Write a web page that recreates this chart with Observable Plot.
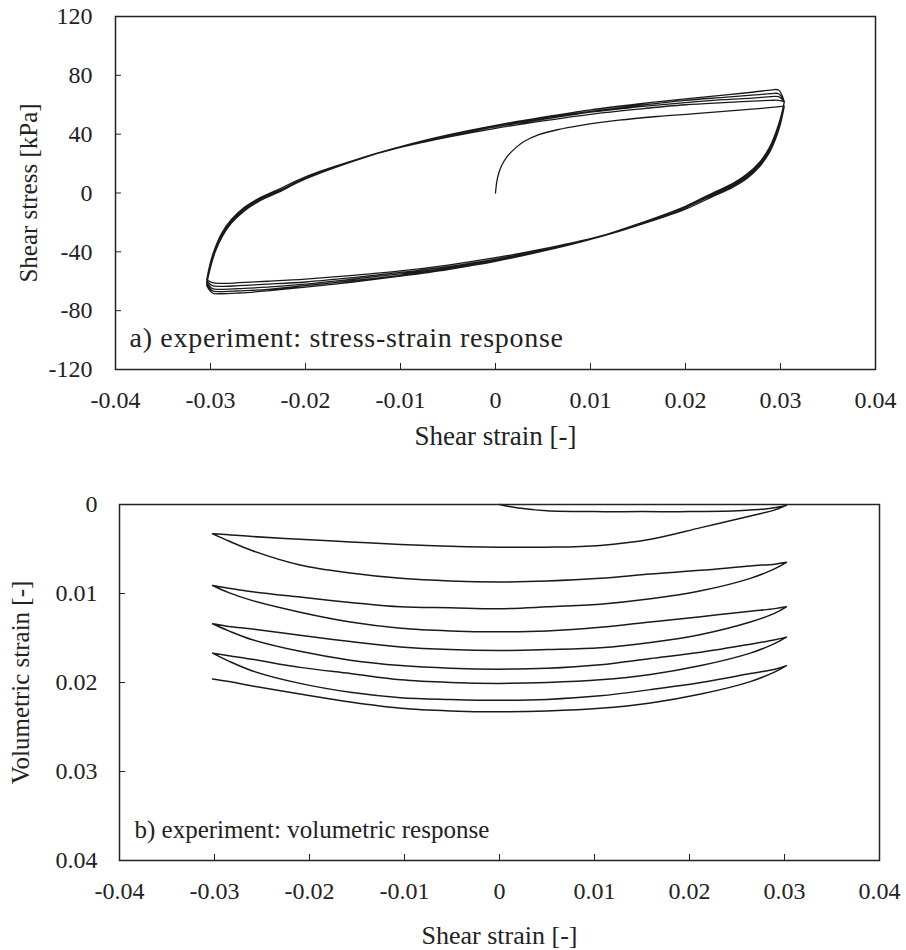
<!DOCTYPE html>
<html>
<head>
<meta charset="utf-8">
<script src="https://cdn.jsdelivr.net/npm/d3@7"></script>
<script src="https://cdn.jsdelivr.net/npm/@observablehq/plot@0.6"></script>
<style>
html, body { margin: 0; padding: 0; background: #fff; }
#chart { width: 906px; height: 950px; }
#chart svg { display: block; }
#chart svg, #chart svg text { font-family: "Liberation Serif", "Times New Roman", Times, serif !important; font-variant: normal !important; }
</style>
</head>
<body>
<div id="chart"></div>
<script>
// ---------- axis ticks ----------
const xTicks = [-0.04, -0.03, -0.02, -0.01, 0, 0.01, 0.02, 0.03, 0.04];
const stressTicks = [-120, -80, -40, 0, 40, 80, 120];
const volTicks = [0, 0.01, 0.02, 0.03, 0.04];

// ---------- panel a: stress-strain ----------
const initStrain = [0, 0.0002, 0.0006, 0.0012, 0.002, 0.003, 0.0045, 0.0065, 0.009, 0.013, 0.017, 0.021, 0.025, 0.028, 0.0304];
const initStress = [0, 10, 18, 24.5, 30, 35, 39.5, 43, 46, 49.5, 52, 54, 56, 57.5, 59];

// branches travelling right -> left (unloading)
const downStrain = [0.0304, 0.0300, 0.0295, 0.0288, 0.0278, 0.0265, 0.025, 0.023, 0.020, 0.015, 0.010, 0.005, 0, -0.005, -0.010, -0.015, -0.020, -0.024, -0.027, -0.029, -0.0298, -0.0304];
const down1 = [59, 47, 37, 27, 18, 10, 4, -2, -11, -22, -31, -38, -44, -49, -53, -56, -58.5, -60, -61, -61.5, -61, -59];
const down2 = [62, 50, 39, 28, 19, 11, 5, -1, -10, -22, -31, -38.5, -45, -50, -54, -57.5, -60.5, -62, -63, -63.5, -63, -60];
const down3 = [62, 50.5, 40, 29, 20, 12, 5.5, -0.5, -10, -22, -31.5, -39, -45.5, -51, -55, -58.5, -62, -64, -65, -65.5, -65, -61];
const down4 = [62, 51, 40.5, 30, 20.5, 12.5, 6, 0, -9.5, -21.5, -31.5, -39.5, -46, -51.5, -56, -59.5, -63, -65.5, -66.5, -67, -66.5, -62];
const down5 = [62, 51, 41, 30.5, 21, 13, 6.5, 0.5, -9, -21, -31.5, -39.5, -46.5, -52, -56.5, -60.5, -64, -66.5, -68, -68.5, -68, -63];

// branches travelling left -> right (reloading)
const upStrain = [-0.0304, -0.0300, -0.0295, -0.0288, -0.0278, -0.0265, -0.025, -0.023, -0.020, -0.015, -0.010, -0.005, 0, 0.005, 0.010, 0.015, 0.020, 0.024, 0.027, 0.029, 0.0298, 0.0304];
const up1 = [-59, -47, -37, -27, -18, -10, -4, 2, 11, 22, 31, 38, 44, 49, 53.5, 57, 60, 61.5, 62.5, 63, 63, 62];
const up2 = [-60, -48, -38, -28, -19, -11, -5, 1, 10, 22, 31, 38.5, 45, 50, 55, 58.5, 61.5, 63.5, 64.5, 65.5, 65.5, 62];
const up3 = [-61, -49.5, -39, -29, -20, -12, -5.5, 0.5, 10, 22, 31.5, 39, 45.5, 51, 55.5, 59.5, 63, 65, 66.5, 67.5, 67.5, 62];
const up4 = [-62, -50.5, -40, -30, -20.5, -12.5, -6, 0, 9.5, 21.5, 31.5, 39.5, 46, 51.5, 56.5, 60.5, 64, 66.5, 68.5, 70, 70, 62];

// ---------- panel b: volumetric ----------
const initVStrain = [0, 0.002, 0.005, 0.01, 0.015, 0.02, 0.025, 0.028, 0.0302];
const initVol = [0, 0.0004, 0.0007, 0.0008, 0.0008, 0.0008, 0.0007, 0.0005, 0.0001];

const leftVStrain = [0.0302, 0.029, 0.0264, 0.0212, 0.0159, 0.0106, 0.005, 0, -0.0052, -0.0104, -0.0157, -0.021, -0.026, -0.0285, -0.0302];
const volL0 = [0.0001, 0.0006, 0.0013, 0.0026, 0.0039, 0.0046, 0.0048, 0.0048, 0.0047, 0.0045, 0.0042, 0.0039, 0.0036, 0.0034, 0.0033];
const volL1 = [0.0065, 0.0072, 0.0083, 0.0097, 0.0106, 0.0112, 0.0115, 0.0117, 0.0116, 0.0115, 0.0110, 0.0104, 0.0098, 0.0094, 0.0091];
const volL2 = [0.0115, 0.0122, 0.0132, 0.0146, 0.0155, 0.0161, 0.0163, 0.0164, 0.0163, 0.0160, 0.0154, 0.0147, 0.0140, 0.0137, 0.0134];
const volL3 = [0.0149, 0.0156, 0.0167, 0.0181, 0.0191, 0.0197, 0.0200, 0.0201, 0.0200, 0.0197, 0.0190, 0.0183, 0.0174, 0.0170, 0.0167];
const volL4 = [0.0181, 0.0188, 0.0199, 0.0213, 0.0223, 0.0229, 0.0232, 0.0233, 0.0232, 0.0229, 0.0222, 0.0213, 0.0204, 0.0199, 0.0196];

const rightVStrain = [-0.0302, -0.0285, -0.026, -0.021, -0.0157, -0.0104, -0.0052, 0, 0.005, 0.0106, 0.0159, 0.0212, 0.0264, 0.029, 0.0302];
const volR1 = [0.0033, 0.0041, 0.0052, 0.0068, 0.0077, 0.0083, 0.0086, 0.0087, 0.0086, 0.0083, 0.0078, 0.0074, 0.0069, 0.0067, 0.0065];
const volR2 = [0.0091, 0.0099, 0.0108, 0.0121, 0.0132, 0.0139, 0.0142, 0.0143, 0.0142, 0.0138, 0.0132, 0.0126, 0.0120, 0.0117, 0.0115];
const volR3 = [0.0134, 0.0142, 0.0152, 0.0165, 0.0175, 0.0181, 0.0184, 0.0185, 0.0184, 0.0180, 0.0173, 0.0166, 0.0157, 0.0152, 0.0149];
const volR4 = [0.0167, 0.0176, 0.0187, 0.0201, 0.0211, 0.0217, 0.0219, 0.0220, 0.0219, 0.0215, 0.0208, 0.0200, 0.0190, 0.0185, 0.0181];

// ---------- build ordered paths ----------
function chain(pairs) {
  const rows = [];
  pairs.forEach(([xs, ys]) => xs.forEach((x, i) => rows.push({x, y: ys[i]})));
  return rows;
}
const stressRows = chain([
  [initStrain, initStress],
  [downStrain, down1], [upStrain, up1],
  [downStrain, down2], [upStrain, up2],
  [downStrain, down3], [upStrain, up3],
  [downStrain, down4], [upStrain, up4],
  [downStrain, down5]
]);
const volRows = chain([
  [initVStrain, initVol],
  [leftVStrain, volL0], [rightVStrain, volR1],
  [leftVStrain, volL1], [rightVStrain, volR2],
  [leftVStrain, volL2], [rightVStrain, volR3],
  [leftVStrain, volL3], [rightVStrain, volR4],
  [leftVStrain, volL4]
]);

const font = '"Liberation Serif", "Times New Roman", Times, serif';
const ink = "#1a1a1a";
const fmt = d => String(d);
const noteA = "a) experiment: stress-strain response";
const noteB = "b) experiment: volumetric response";

const svgA = Plot.plot({
  width: 906, height: 470,
  marginLeft: 115, marginRight: 31, marginTop: 16, marginBottom: 101,
  style: {fontFamily: font, fontSize: "24px", color: "#222", background: "#fff"},
  x: {domain: [-0.04, 0.04]},
  y: {domain: [-120, 120]},
  marks: [
    Plot.line(stressRows, {x: "x", y: "y", curve: "catmull-rom", stroke: ink, strokeWidth: 1.3}),
    Plot.axisX(xTicks, {anchor: "bottom", tickSize: 6, dy: -6, tickPadding: 21, tickFormat: fmt, label: null, fontSize: 24}),
    Plot.axisY(stressTicks, {anchor: "left", tickSize: 6, dx: 6, tickPadding: 23, tickFormat: fmt, label: null, fontSize: 24}),
    Plot.frame({stroke: "#222", strokeWidth: 1.5}),
    Plot.text([noteA], {text: d => d, frameAnchor: "bottom-left", textAnchor: "start", lineAnchor: "bottom", dx: 14, dy: -23, fontSize: 28, fill: "#222"}),
    Plot.text(["Shear strain [-]"], {text: d => d, frameAnchor: "bottom", textAnchor: "middle", lineAnchor: "bottom", dy: 75, fontSize: 27, fill: "#222"}),
    Plot.text(["Shear stress [kPa]"], {text: d => d, frameAnchor: "left", textAnchor: "middle", rotate: -90, lineAnchor: "bottom", dx: -79, fontSize: 25, fill: "#222"})
  ]
});

const svgB = Plot.plot({
  width: 906, height: 480,
  marginLeft: 119, marginRight: 27, marginTop: 34, marginBottom: 90,
  style: {fontFamily: font, fontSize: "24px", color: "#222", background: "#fff"},
  x: {domain: [-0.04, 0.04]},
  y: {domain: [0, 0.04], reverse: true},
  marks: [
    Plot.line(volRows, {x: "x", y: "y", curve: "catmull-rom", stroke: ink, strokeWidth: 1.5}),
    Plot.axisX(xTicks, {anchor: "bottom", tickSize: 6, dy: -6, tickPadding: 21, tickFormat: fmt, label: null, fontSize: 24}),
    Plot.axisY(volTicks, {anchor: "left", tickSize: 6, dx: 6, tickPadding: 22, tickFormat: fmt, label: null, fontSize: 24}),
    Plot.frame({stroke: "#222", strokeWidth: 1.5}),
    Plot.text([noteB], {text: d => d, frameAnchor: "bottom-left", textAnchor: "start", lineAnchor: "bottom", dx: 15, dy: -23, fontSize: 25, fill: "#222"}),
    Plot.text(["Shear strain [-]"], {text: d => d, frameAnchor: "bottom", textAnchor: "middle", lineAnchor: "bottom", dy: 83, fontSize: 26, fill: "#222"}),
    Plot.text(["Volumetric strain [-]"], {text: d => d, frameAnchor: "left", textAnchor: "middle", rotate: -90, lineAnchor: "bottom", dx: -91, fontSize: 25, fill: "#222"})
  ]
});

// slightly wider letter spacing for the panel-a note (as in the original)
d3.select(svgA).selectAll("text").filter(function () { return this.textContent === noteA; })
  .style("letter-spacing", "0.7px");

const root = document.getElementById("chart");
root.appendChild(svgA);
root.appendChild(svgB);
</script>
</body>
</html>
